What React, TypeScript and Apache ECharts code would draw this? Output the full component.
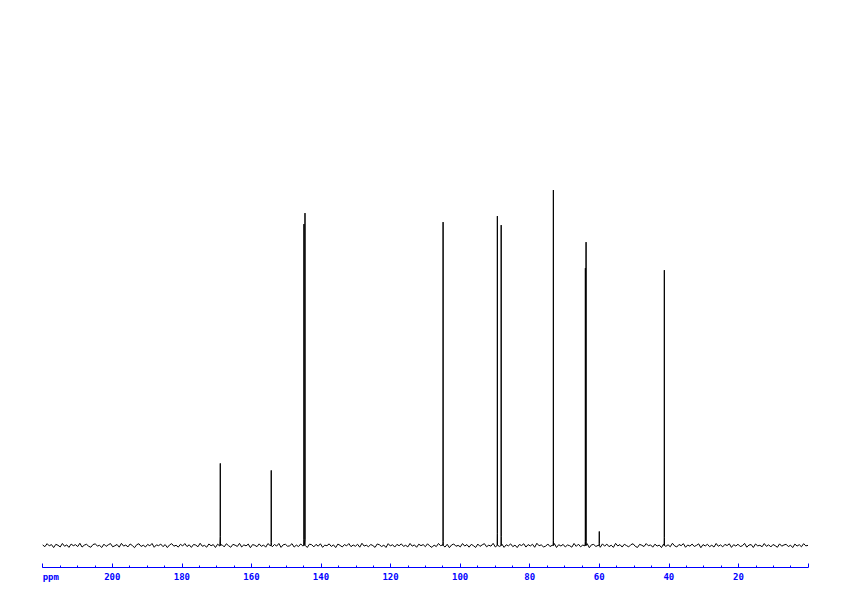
import React, { useEffect, useRef } from "react";
import * as echarts from "echarts";

// Peak positions (ppm) and heights (arbitrary intensity units)
const peakPpm = [168.95, 154.3, 144.9, 144.6, 104.9, 89.3, 88.2, 73.2, 64.0, 63.8, 60.0, 41.3];
const peakHeight = [82, 75, 321, 332, 323, 329, 320, 355, 277, 303, 14, 275];
const peakFoot = [9, 3, 6, 6, 4, 12, 9, 5, 4, 4, 2, 8];

// Baseline noise samples, from 220 ppm down to 0 ppm
const baselineNoise = [
  0.5, -1.2, 1.8, -0.4, 0.9, -2.1, 1.1, 0.2, -1.5, 2.0,
  -0.8, 0.6, -1.9, 1.4, -0.2, 0.8, -1.1, 2.2, -1.6, 0.3,
  1.2, -0.7, -1.8, 0.9, 1.6, -0.5, 0.1, -2.0, 1.3, -0.9,
  0.7, 1.9, -1.3, -0.3, 1.0, -1.7, 2.1, -0.6, 0.4, -1.4,
  1.5, -0.1, -2.2, 0.8, 1.7, -1.0, 0.3, -1.5, 1.1, -0.4,
  2.0, -1.8, 0.6, -0.2, 1.4, -1.2, 0.9, -2.1, 0.5, 1.8,
  -0.7, 0.2, -1.6, 1.2, -0.5, 1.9, -1.1, 0.7, -1.9, 1.0,
  0.4, -1.3, 2.2, -0.8, 0.1, -1.7, 1.5, -0.3, 0.9, -2.0,
  1.3, -0.6, 0.8, -1.4, 1.7, -0.2, -1.8, 1.1, 0.3, -1.0,
  2.1, -1.5, 0.6, -0.4, 1.4, -2.2, 0.9, 0.2, -1.2, 1.6,
  -0.9, 0.5, -1.7, 1.9, -0.1, -1.3, 1.0, -0.6, 2.0, -1.9,
  0.7, 1.2, -0.8, -0.3, 1.8, -1.6, 0.4, -1.1, 1.5, -0.5,
  0.2, -2.0, 1.3, 0.8, -1.4, 1.1, -0.7, 1.7, -1.8, 0.3,
  -0.2, 1.6, -1.0, 0.6, -2.1, 1.4, 0.1, -1.5, 0.9, -0.4,
  1.9, -1.2, 0.5, -0.8, 1.2, -1.7, 2.2, -0.6, 0.3, -1.3,
  1.0, -0.1, -1.9, 1.5, 0.7, -1.1, 0.4, -2.0, 1.8, -0.5,
  0.8, -1.6, 1.1, -0.3, 1.6, -0.9, 0.2, -1.4, 2.0, -0.7,
  0.6, -1.8, 1.3, -0.2, 0.9, -1.2, 1.7, -0.5, -1.9, 0.4,
  -1.1, 2.0, -0.3, 0.8, -1.6, 1.2, -2.2, 0.5, 1.5, -0.8,
  0.1, -1.4, 1.9, -0.6, 0.9, -1.7, 1.1, -0.2, -2.0, 1.4,
  -0.9, 0.6, 1.8, -1.3, 0.3, -0.7, 2.1, -1.5, 0.2, -1.0,
  1.3, -1.9, 0.7, -0.4, 1.6, -1.2, 0.4, -2.1, 1.0, -0.1,
  1.7, -1.6, 0.9, -0.5, 1.2, -1.8, 2.2, -0.3, 0.6, -1.4,
  -0.8, 1.5, -1.1, 0.2, 1.9, -2.0, 0.8, -0.6, 1.1, -1.5,
  0.5, -0.2, -1.7, 2.0, -0.9, 1.3, -1.3, 0.4, -0.4, 1.8,
  -2.2, 0.7, 1.0, -1.0, 0.1, -1.8, 1.6, -0.7, 1.4, -1.2,
  0.3, -1.9, 2.1, -0.5, 0.9, -1.6, 1.2, -0.1, -1.4, 0.8,
  1.7, -0.8, -2.0, 1.1, 0.2, -1.1, 1.9, -0.3, 0.6, -1.7,
  1.3, -0.6, 0.4, -2.1, 1.5, -0.9, 0.7, -1.3, 2.2, -0.4,
  -1.5, 1.0, -0.2, 1.8, -1.8, 0.5, -0.7, 1.4, -1.0, 0.1,
  1.6, -2.2, 0.9, -0.5, 1.2, -1.2, 0.3, -1.6, 2.0, -0.8,
  0.6, -1.4, 1.1, -0.1, 1.7, -1.9, 0.8, -0.6, 1.3, -1.1,
  -0.3, 2.1, -1.7, 0.4, 0.9, -2.0, 1.5, -0.4, 0.2, -1.3,
  1.9, -0.9, 0.7, -1.5, 1.0, -0.2, -1.8, 1.6, -0.7, 0.5,
  1.2, -1.1, 0.3, -2.1, 1.4, -0.6, 0.8, -1.3, 1.8, -0.4,
  0.1,
];

const axisMin = 0;
const axisMax = 220;
const axisInterval = 20;

function buildSpectrum(): number[][] {
  const pts: number[][] = [];
  const n = baselineNoise.length;
  const step = (axisMax - axisMin) / (n - 1);
  baselineNoise.forEach((v, i) => pts.push([axisMax - i * step, v]));
  peakPpm.forEach((p, i) => {
    pts.push([p + 0.06, 0]);
    pts.push([p + 0.02, peakFoot[i]]);
    pts.push([p, peakHeight[i]]);
    pts.push([p - 0.02, peakFoot[i]]);
    pts.push([p - 0.06, 0]);
  });
  pts.sort((a, b) => b[0] - a[0]);
  return pts;
}

export default function App() {
  const ref = useRef<HTMLDivElement>(null);
  useEffect(() => {
    if (!ref.current) return;
    const chart = echarts.init(ref.current, undefined, { renderer: "svg" });
    chart.setOption({
      animation: false,
      backgroundColor: "#ffffff",
      grid: { left: 42.7, right: 34, top: 145, bottom: 28.5, containLabel: false },
      xAxis: {
        type: "value",
        min: axisMin,
        max: axisMax,
        interval: axisInterval,
        inverse: true,
        axisLine: { show: true, onZero: false, lineStyle: { color: "#0000ff", width: 1 } },
        axisTick: { show: true, inside: true, length: 4, lineStyle: { color: "#0000ff" } },
        minorTick: { show: true, splitNumber: 4, length: 2, lineStyle: { color: "#0000ff" } },
        splitLine: { show: false },
        minorSplitLine: { show: false },
        axisLabel: {
          color: "#0000ff",
          fontSize: 9,
          fontWeight: "bold",
          fontFamily: "DejaVu Sans Mono",
          margin: 5,
          showMinLabel: true,
          showMaxLabel: true,
          alignMaxLabel: "left",
          formatter: (v: number) => (v === axisMax ? "ppm" : v === axisMin ? "" : String(v)),
        },
      },
      yAxis: { type: "value", min: -22, max: 400, show: false },
      series: [
        {
          type: "line",
          data: buildSpectrum(),
          symbol: "none",
          showSymbol: false,
          smooth: false,
          lineStyle: { color: "#000000", width: 1 },
        },
      ],
    });
    return () => chart.dispose();
  }, []);
  return (
    <div
      ref={ref}
      style={{ position: "fixed", left: 0, top: 0, width: 842, height: 596, background: "#fff" }}
    />
  );
}
